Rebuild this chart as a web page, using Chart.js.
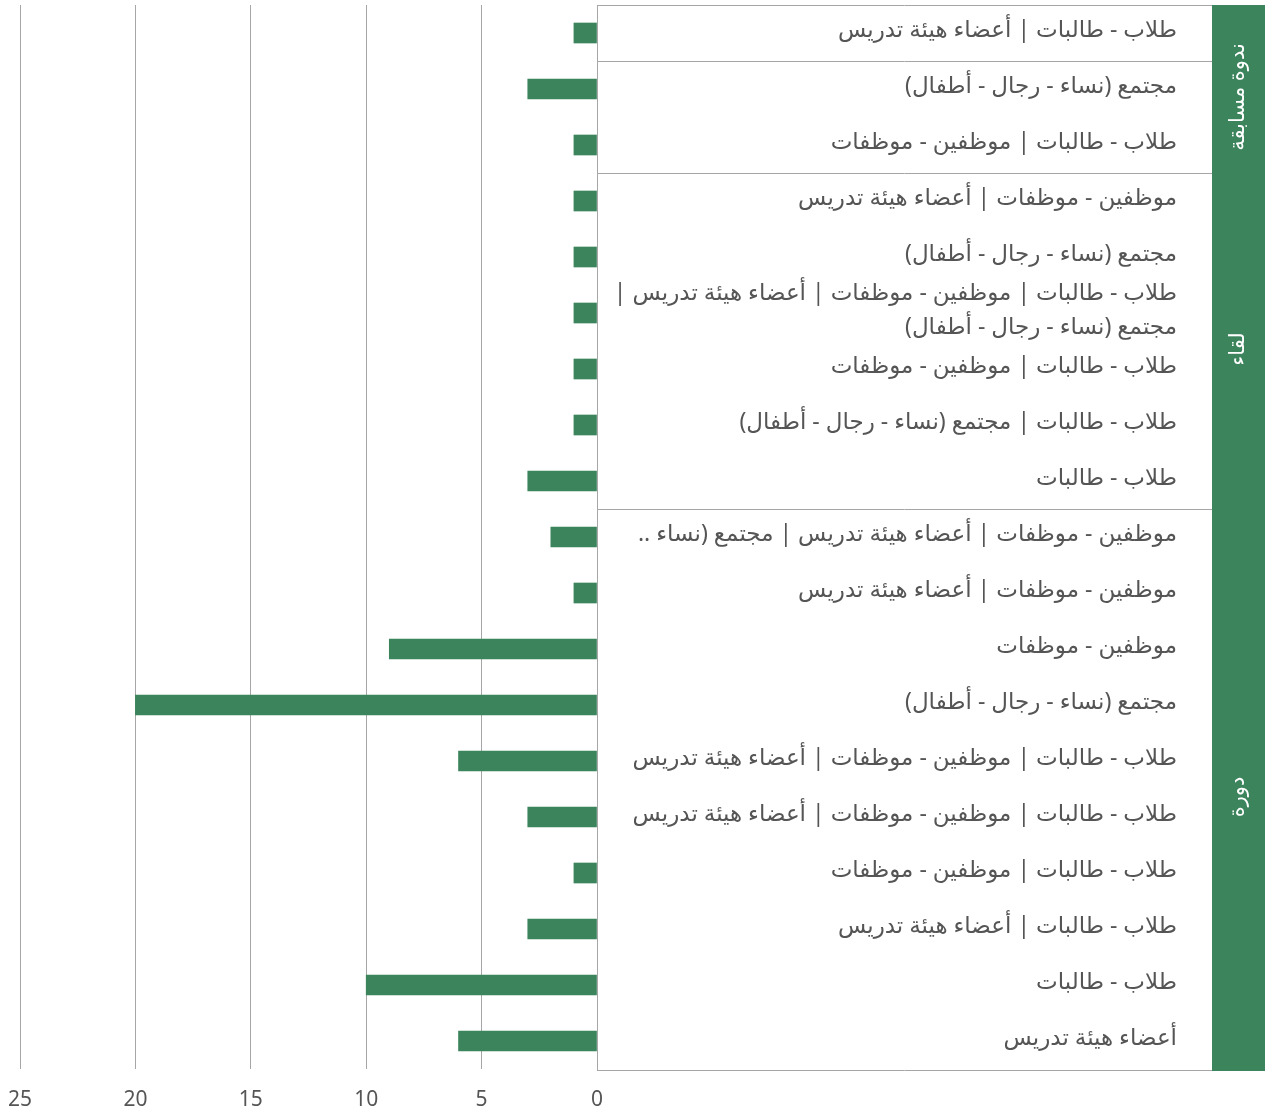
<!DOCTYPE html>
<html lang="ar">
<head>
<meta charset="utf-8">
<script src="https://cdn.jsdelivr.net/npm/chart.js@4.4.0/dist/chart.umd.min.js"></script>
<style>
  body { margin: 0; background: #fff; }
  #wrap { width: 1269px; height: 1115px; }
</style>
</head>
<body>
<div id="wrap"><canvas id="chart" width="1269" height="1115"></canvas></div>
<script>
// الفئات من الأعلى إلى الأسفل
const categories = [
    'طلاب - طالبات | أعضاء هيئة تدريس',
    'مجتمع (نساء - رجال - أطفال)',
    'طلاب - طالبات | موظفين - موظفات',
    'موظفين - موظفات | أعضاء هيئة تدريس',
    'مجتمع (نساء - رجال - أطفال)',
    ['طلاب - طالبات | موظفين - موظفات | أعضاء هيئة تدريس |', 'مجتمع (نساء - رجال - أطفال)'],
    'طلاب - طالبات | موظفين - موظفات',
    'طلاب - طالبات | مجتمع (نساء - رجال - أطفال)',
    'طلاب - طالبات',
    'موظفين - موظفات | أعضاء هيئة تدريس | مجتمع (نساء ..',
    'موظفين - موظفات | أعضاء هيئة تدريس',
    'موظفين - موظفات',
    'مجتمع (نساء - رجال - أطفال)',
    'طلاب - طالبات | موظفين - موظفات | أعضاء هيئة تدريس',
    'طلاب - طالبات | موظفين - موظفات | أعضاء هيئة تدريس',
    'طلاب - طالبات | موظفين - موظفات',
    'طلاب - طالبات | أعضاء هيئة تدريس',
    'طلاب - طالبات',
    'أعضاء هيئة تدريس'
];
const values = [1, 3, 1, 1, 1, 1, 1, 1, 3, 2, 1, 9, 20, 6, 3, 1, 3, 10, 6];

// المجموعات (عمود أخضر على اليمين)
const groups = ['ندوة مسابقة', 'لقاء', 'دورة'];
const groupSizes = [3, 6, 10];
// خطوط فاصلة قبل هذه الصفوف
const separators = [1, 3, 9];

const xTicks = [0, 5, 10, 15, 20, 25];

const verde = '#3b845c';
const cinza = '#a6a6a6';
const fonte = "'Noto Sans', 'DejaVu Sans', sans-serif";

const tabela = {
    id: 'tabela',
    afterDraw(chart) {
        const ctx = chart.ctx;
        const area = chart.chartArea;
        const y = chart.scales.y;
        const x0 = area.right;
        const xCol = 1212;
        const xFim = 1265;
        const topo = area.top;
        const fundo = area.bottom + 2;
        const limite = i => y.getPixelForValue(i - 0.5);

        ctx.save();
        // coluna verde dos grupos
        ctx.fillStyle = verde;
        ctx.fillRect(xCol, topo, xFim - xCol, fundo - topo);

        // bordas da tabela
        ctx.strokeStyle = cinza;
        ctx.lineWidth = 1;
        ctx.beginPath();
        ctx.moveTo(x0 + 0.5, topo);
        ctx.lineTo(x0 + 0.5, fundo);
        ctx.moveTo(x0, topo + 0.5);
        ctx.lineTo(xCol, topo + 0.5);
        ctx.moveTo(x0, fundo - 0.5);
        ctx.lineTo(xCol, fundo - 0.5);
        separators.forEach(s => {
            const py = Math.round(limite(s)) + 0.5;
            ctx.moveTo(x0, py);
            ctx.lineTo(xCol, py);
        });
        ctx.stroke();

        // rótulos das categorias
        ctx.fillStyle = '#555555';
        ctx.font = '23px ' + fonte;
        ctx.direction = 'rtl';
        ctx.textAlign = 'right';
        ctx.textBaseline = 'middle';
        categories.forEach((lab, i) => {
            const cy = y.getPixelForValue(i);
            const linhas = Array.isArray(lab) ? lab : [lab];
            const alt = 34;
            linhas.forEach((l, k) => {
                ctx.fillText(l, 1177, cy + (k - (linhas.length - 1) / 2) * alt - 3);
            });
        });

        // rótulos dos grupos (rodados)
        ctx.fillStyle = '#ffffff';
        ctx.font = '21px ' + fonte;
        ctx.textAlign = 'center';
        let ini = 0;
        groups.forEach((g, i) => {
            const a = limite(ini);
            const b = limite(ini + groupSizes[i]);
            ini += groupSizes[i];
            ctx.save();
            ctx.translate((xCol + xFim) / 2, (a + b) / 2 + 8);
            ctx.rotate(-Math.PI / 2);
            ctx.fillText(g, 0, 0);
            ctx.restore();
        });
        ctx.restore();
    }
};

const ctx = document.getElementById('chart').getContext('2d');
const chart = new Chart(ctx, {
    type: 'bar',
    data: {
        labels: categories,
        datasets: [{
            data: values,
            backgroundColor: verde,
            barThickness: 20
        }]
    },
    options: {
        indexAxis: 'y',
        responsive: false,
        animation: false,
        layout: { padding: { left: 20, right: 672, top: 5, bottom: 0 } },
        plugins: { legend: { display: false }, tooltip: { enabled: false } },
        scales: {
            x: {
                type: 'linear',
                reverse: true,
                min: 0,
                max: 25,
                afterBuildTicks: s => { s.ticks = xTicks.map(v => ({ value: v })); },
                afterFit: s => { s.height = 46; },
                border: { display: false },
                grid: { color: cinza, drawTicks: false },
                ticks: { color: '#555555', font: { size: 21, family: fonte }, padding: 18 }
            },
            y: {
                display: false
            }
        }
    },
    plugins: [tabela]
});
</script>
</body>
</html>
